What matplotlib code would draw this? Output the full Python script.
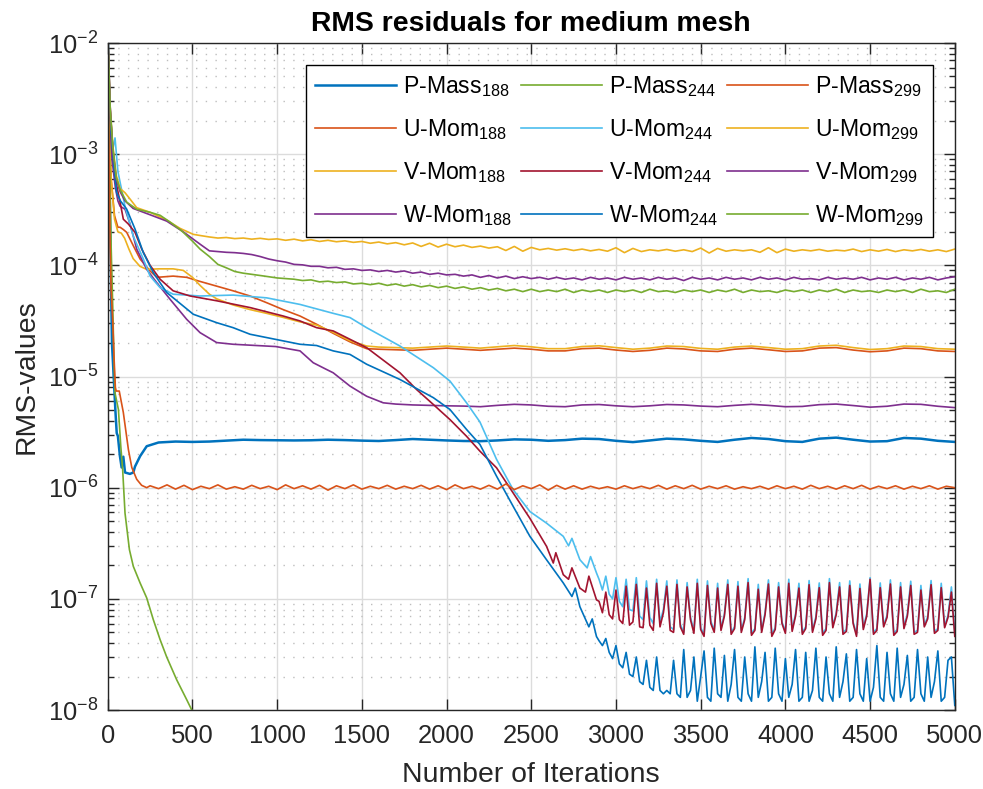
"""
RMS residuals for the medium mesh, log plot of 12 residual histories
"""

import numpy as np
import matplotlib
matplotlib.use('Agg')
import matplotlib.pyplot as plt
from matplotlib.ticker import FixedLocator, NullFormatter

plt.rcParams['font.family'] = ['Liberation Sans', 'DejaVu Sans']
plt.rcParams['mathtext.fontset'] = 'custom'
plt.rcParams['mathtext.rm'] = 'Liberation Sans'
plt.rcParams['mathtext.it'] = 'Liberation Sans:italic'
plt.rcParams['mathtext.bf'] = 'Liberation Sans:bold'
plt.rcParams['axes.unicode_minus'] = False

# ---- data ----
# head = hand picked (iteration, value) points, tail = values on a regular iteration grid

# P-Mass 188
pm188_it = [0, 8, 15, 20, 25, 35, 45, 53, 60, 72, 82, 92, 102, 131, 151, 161, 191, 230]
pm188_val = [1.2e-2, 1e-3, 2e-4, 6e-5, 2e-5, 1e-5, 5e-6, 3.1e-6, 2.9e-6, 1.92e-6, 1.52e-6, 1.9e-6,
             1.37e-6, 1.33e-6, 1.37e-6, 1.55e-6, 1.92e-6, 2.36e-6]
pm188_tail = [2.55, 2.6, 2.58, 2.6, 2.65, 2.7, 2.68, 2.67, 2.66, 2.67, 2.7, 2.68, 2.65, 2.63, 2.68, 2.74,
              2.7, 2.66, 2.63, 2.62, 2.66, 2.72, 2.7, 2.64, 2.68, 2.76, 2.74, 2.64, 2.57, 2.66, 2.76, 2.72,
              2.64, 2.58, 2.7, 2.8, 2.74, 2.62, 2.58, 2.76, 2.82, 2.7, 2.6, 2.62, 2.8, 2.76, 2.64, 2.58]  # x1e-6, 300:100:5000

# U-Mom 188
um188_it = [0, 8, 20, 40, 60, 73, 92, 112, 151, 191, 250, 290, 386, 466, 540, 643, 740, 840, 940, 1035,
            1135, 1233, 1330, 1430, 1528]
um188_val = [1.2e-2, 2e-3, 6e-4, 2.8e-4, 2.2e-4, 2.2e-4, 2.1e-4, 1.98e-4, 1.5e-4, 1.14e-4, 8.9e-5, 7.8e-5,
             8.0e-5, 7.8e-5, 7.2e-5, 6.5e-5, 5.9e-5, 5.3e-5, 4.6e-5, 4.0e-5, 3.5e-5, 2.95e-5, 2.45e-5,
             2.05e-5, 1.78e-5]
um188_tail = [1.76, 1.74, 1.72, 1.76, 1.8, 1.76, 1.72, 1.76, 1.8, 1.76, 1.7, 1.7, 1.78, 1.8, 1.73, 1.68,
              1.72, 1.8, 1.77, 1.7, 1.68, 1.76, 1.8, 1.74, 1.68, 1.7, 1.8, 1.82, 1.73, 1.67, 1.7, 1.8,
              1.78, 1.7, 1.68]  # x1e-5, 1600:100:5000

# V-Mom 188
vm188_it = [0, 8, 20, 40, 60, 80, 100, 125, 150, 190, 230, 300, 386, 446, 500, 545, 600, 643, 740, 840,
            938, 1036, 1135, 1233, 1331, 1430, 1528]
vm188_val = [1.2e-2, 2e-3, 6e-4, 2.6e-4, 2.0e-4, 1.95e-4, 1.75e-4, 1.4e-4, 1.15e-4, 9.8e-5, 9.2e-5, 9.3e-5,
             9.3e-5, 9.0e-5, 7.8e-5, 6.6e-5, 5.5e-5, 5.0e-5, 4.4e-5, 4.0e-5, 3.7e-5, 3.4e-5, 3.1e-5,
             2.9e-5, 2.5e-5, 2.1e-5, 1.88e-5]
vm188_tail = [1.84, 1.82, 1.8, 1.84, 1.88, 1.84, 1.8, 1.85, 1.9, 1.85, 1.78, 1.78, 1.86, 1.89, 1.82, 1.76,
              1.8, 1.88, 1.86, 1.79, 1.76, 1.84, 1.88, 1.82, 1.76, 1.78, 1.88, 1.91, 1.82, 1.75, 1.78, 1.88,
              1.86, 1.78, 1.76]  # x1e-5, 1600:100:5000

# W-Mom 188
wm188_it = [0, 10, 25, 45, 60, 73, 102, 132, 171, 230, 289, 368, 466, 545, 643, 740, 992, 1135, 1213,
            1290, 1331, 1430, 1528, 1626]
wm188_val = [1.2e-2, 2.5e-3, 9e-4, 5e-4, 3.8e-4, 3.4e-4, 3.2e-4, 2.35e-4, 1.4e-4, 9.2e-5, 7.0e-5, 4.95e-5,
             3.27e-5, 2.48e-5, 2.02e-5, 1.95e-5, 1.86e-5, 1.7e-5, 1.33e-5, 1.16e-5, 1.08e-5, 8.2e-6,
             6.65e-6, 5.8e-6]
wm188_tail = [5.65, 5.55, 5.5, 5.45, 5.42, 5.35, 5.5, 5.62, 5.55, 5.4, 5.35, 5.55, 5.6, 5.45, 5.35, 5.45,
              5.6, 5.55, 5.42, 5.35, 5.5, 5.62, 5.5, 5.35, 5.38, 5.58, 5.65, 5.48, 5.3, 5.4, 5.65, 5.62,
              5.4, 5.25]  # x1e-6, 1700:100:5000

# P-Mass 244 (drops out of the axes at ~500)
pm244_it = [0, 10, 20, 30, 38, 43, 63, 77, 88, 102, 128, 151, 191, 230, 269, 309, 348, 407, 466, 496, 520]
pm244_val = [1.2e-2, 1e-3, 1.5e-4, 4e-5, 1.2e-5, 7.1e-6, 5.05e-6, 2.36e-6, 1.46e-6, 5.9e-7, 2.77e-7,
             1.96e-7, 1.39e-7, 1.02e-7, 6.5e-8, 4.3e-8, 3.0e-8, 1.87e-8, 1.24e-8, 1.0e-8, 8.5e-9]

# U-Mom 244
um244_it = [0, 15, 30, 43, 60, 100, 150, 210, 250, 309, 386, 545, 740, 938, 1135, 1331, 1430, 1528, 1725,
            1922, 2020, 2118, 2197, 2295, 2393, 2492, 2590, 2689, 2720, 2740, 2787, 2830, 2850, 2885]
um244_val = [1.2e-2, 2.5e-3, 1.1e-3, 1.4e-3, 7e-4, 3.5e-4, 1.84e-4, 1.14e-4, 8.0e-5, 6.3e-5, 5.5e-5,
             5.3e-5, 5.4e-5, 5.1e-5, 4.45e-5, 3.7e-5, 3.39e-5, 2.75e-5, 1.88e-5, 1.2e-5, 9.1e-6, 5.8e-6,
             3.9e-6, 1.8e-6, 9.6e-7, 6.1e-7, 4.8e-7, 3.65e-7, 3.0e-7, 3.5e-7, 2.25e-7, 1.9e-7, 2.4e-7, 1.71e-7]
um244_tail = [15.0, 12.0, 16.0, 11.0, 10.0, 15.5, 9.5, 8.5, 15.0, 8.0,
              7.8, 15.5, 7.0, 6.5, 14.5, 6.8, 6.0, 15.0, 6.2, 8.0,
              14.5, 5.6, 5.3, 14.8, 5.9, 5.0, 14.0, 6.8, 5.2, 15.0,
              5.5, 4.8, 14.5, 6.3, 5.2, 13.8, 5.4, 7.3, 14.8, 5.0,
              5.6, 14.3, 5.2, 6.8, 15.2, 4.9, 5.4, 13.5, 5.2, 7.5,
              14.8, 4.8, 5.5, 14.0, 6.2, 5.1, 15.0, 5.3, 7.3, 13.8,
              5.0, 5.6, 14.6, 5.2, 6.9, 13.9, 4.9, 5.4, 15.2, 5.7,
              7.5, 14.0, 5.0, 5.3, 14.5, 6.2, 4.8, 13.6, 5.5, 7.3,
              15.5, 5.0, 5.4, 13.9, 5.8, 7.1, 14.8, 4.9, 5.3, 14.0,
              5.6, 7.3, 14.4, 5.0, 5.2, 13.2, 5.8, 6.9, 14.6, 5.1,
              5.4, 13.8, 5.7, 7.1, 12.8, 5.0]  # x1e-8, 2900:20:5000

# V-Mom 244
vm244_it = [0, 15, 30, 53, 73, 92, 122, 161, 201, 250, 309, 386, 486, 643, 840, 1036, 1135, 1233, 1331,
            1430, 1528, 1725, 1823, 1922, 2020, 2118, 2197, 2295, 2393, 2492, 2590, 2630, 2645, 2689,
            2720, 2740, 2787, 2820, 2840, 2885]
vm244_val = [1.2e-2, 2.5e-3, 1e-3, 5.2e-4, 3.7e-4, 2.6e-4, 2.35e-4, 1.98e-4, 1.4e-4, 1.0e-4, 7.5e-5,
             5.9e-5, 5.3e-5, 4.8e-5, 4.17e-5, 3.5e-5, 3.16e-5, 2.75e-5, 2.57e-5, 2.16e-5, 1.82e-5,
             1.08e-5, 7.64e-6, 5.6e-6, 4.1e-6, 2.9e-6, 2.13e-6, 1.51e-6, 8.96e-7, 5.3e-7, 2.97e-7,
             2.1e-7, 2.6e-7, 1.65e-7, 1.5e-7, 1.9e-7, 1.25e-7, 1.15e-7, 1.6e-7, 9.8e-8]
vm244_tail = [9.5, 7.5, 11.5, 7.2, 6.6, 12.0, 6.5, 6.0, 13.0, 5.8,
              6.2, 13.5, 5.6, 5.5, 12.5, 5.8, 5.2, 13.8, 5.6, 7.5,
              13.0, 5.2, 5.0, 13.5, 5.6, 4.8, 12.8, 6.5, 4.9, 13.8,
              5.3, 4.6, 13.2, 6.0, 5.0, 12.5, 5.2, 7.0, 13.5, 4.8,
              5.4, 13.0, 5.0, 6.5, 14.0, 4.7, 5.2, 12.2, 5.0, 7.2,
              13.6, 4.6, 5.3, 12.8, 6.0, 4.9, 13.8, 5.1, 7.0, 12.5,
              4.8, 5.4, 13.4, 5.0, 6.6, 12.6, 4.7, 5.2, 14.0, 5.5,
              7.2, 12.8, 4.8, 5.1, 13.2, 6.0, 4.6, 12.4, 5.3, 7.0,
              15.0, 4.8, 5.2, 12.6, 5.6, 6.8, 13.6, 4.7, 5.1, 12.8,
              5.4, 7.0, 13.2, 4.8, 5.0, 12.0, 5.6, 6.6, 13.4, 4.9,
              5.2, 12.6, 5.5, 6.8, 11.5, 4.6]  # x1e-8, 2900:20:5000

# W-Mom 244
wm244_it = [0, 15, 35, 53, 75, 112, 132, 161, 210, 269, 348, 446, 505, 643, 740, 840, 938, 1036, 1135,
            1233, 1331, 1430, 1528, 1725, 1922, 2020, 2118, 2197, 2295, 2393, 2492, 2590, 2689, 2740,
            2760, 2787, 2840, 2860, 2885]
wm244_val = [1.2e-2, 2e-3, 8e-4, 4.5e-4, 3.8e-4, 3.2e-4, 2.7e-4, 2.12e-4, 1.3e-4, 8.6e-5, 5.7e-5, 4.3e-5,
             3.63e-5, 3.05e-5, 2.75e-5, 2.4e-5, 2.24e-5, 2.09e-5, 1.95e-5, 1.9e-5, 1.7e-5, 1.58e-5,
             1.29e-5, 9.4e-6, 6.45e-6, 5.05e-6, 3.34e-6, 2.45e-6, 1.27e-6, 6.8e-7, 3.65e-7, 2.25e-7,
             1.39e-7, 1.05e-7, 1.25e-7, 8.5e-8, 5.6e-8, 6.6e-8, 4.58e-8]
wm244_tail = [42, 38, 44, 33, 29, 38, 26, 24, 33, 21,
              20, 30, 18, 17, 28, 16, 15, 30, 15, 14,
              15, 14, 28, 14, 13, 35, 13, 15, 30, 12,
              20, 34, 13, 12, 36, 14, 13, 31, 12, 17,
              35, 13, 12, 30, 14, 12, 37, 13, 18, 33,
              12, 13, 36, 14, 12, 29, 13, 17, 35, 12,
              13, 33, 12, 15, 36, 13, 12, 30, 14, 12,
              37, 13, 18, 32, 12, 13, 35, 14, 12, 29,
              12, 16, 38, 13, 12, 33, 14, 12, 36, 13,
              17, 31, 12, 13, 35, 14, 12, 30, 13, 18,
              34, 12, 13, 28, 30, 11]  # x1e-9, 2900:20:5000

# P-Mass 299
pm299_it = [0, 8, 14, 20, 30, 37, 45, 50, 68, 92, 122, 142, 171, 200, 230]
pm299_val = [1.2e-2, 1e-3, 1.5e-4, 6e-5, 3e-5, 1.5e-5, 8e-6, 7.4e-6, 7.4e-6, 4.75e-6, 2.2e-6, 1.52e-6,
             1.19e-6, 1.05e-6, 1.0e-6]
pm299_tail = [1.04, 0.98, 1.06, 0.97, 1.05, 0.96, 1.03, 0.98, 1.06, 0.97,
              1.02, 0.97, 1.05, 0.98, 1.03, 0.96, 1.06, 0.98, 1.04, 0.97,
              1.05, 0.95, 1.04, 0.98, 1.06, 0.97, 1.03, 0.98, 1.05, 0.97,
              1.03, 0.98, 1.05, 0.97, 1.04, 0.96, 1.06, 0.98, 1.03, 0.97,
              1.05, 0.97, 1.08, 0.96, 1.04, 0.98, 1.06, 0.95, 1.05, 0.97,
              1.04, 0.97, 1.03, 0.98, 1.02, 0.97, 1.04, 0.98, 1.03, 0.98,
              1.05, 0.97, 1.04, 0.98, 1.05, 0.97, 1.03, 0.98, 1.04, 0.97,
              1.02, 0.98, 1.03, 0.97, 1.04, 0.98, 1.03, 0.97, 1.05, 0.98,
              1.03, 0.97, 1.04, 0.98, 1.05, 0.97, 1.03, 0.98, 1.04, 0.97,
              1.03, 0.98, 1.04, 0.97, 1.03, 1.0]  # x1e-6, 250:50:5000

# U-Mom 299
um299_it = [0, 15, 30, 50, 73, 102, 132, 171, 250, 348, 427, 505, 550]
um299_val = [1.2e-2, 2.5e-3, 1.2e-3, 6.5e-4, 4.9e-4, 4.5e-4, 3.94e-4, 3.3e-4, 3.0e-4, 2.55e-4, 2.15e-4,
             1.9e-4, 1.85e-4]
um299_tail = [1.80, 1.76, 1.78, 1.74, 1.76, 1.72, 1.75, 1.71, 1.73,
              1.68, 1.72, 1.66, 1.70, 1.64, 1.68, 1.63, 1.66, 1.61, 1.64,
              1.58, 1.62, 1.56, 1.60, 1.53, 1.59, 1.48, 1.58, 1.46, 1.55,
              1.47, 1.52, 1.45, 1.49, 1.43, 1.47, 1.36, 1.48, 1.34, 1.45,
              1.38, 1.42, 1.37, 1.41, 1.36, 1.40, 1.35, 1.39, 1.34, 1.44,
              1.30, 1.42, 1.33, 1.38, 1.35, 1.39, 1.34, 1.38, 1.33, 1.43,
              1.29, 1.42, 1.34, 1.38, 1.35, 1.38, 1.31, 1.44, 1.30, 1.40,
              1.34, 1.38, 1.35, 1.39, 1.34, 1.37, 1.35, 1.40, 1.33, 1.38,
              1.34, 1.39, 1.33, 1.38, 1.35, 1.39, 1.34, 1.38, 1.33, 1.40]  # x1e-4, 600:50:5000

# V-Mom 299
vm299_it = [0, 15, 30, 50, 73, 102, 150, 250, 348, 446, 545]
vm299_val = [1.2e-2, 2.5e-3, 1.1e-3, 6e-4, 4.6e-4, 3.8e-4, 3.25e-4, 2.85e-4, 2.5e-4, 2.0e-4, 1.55e-4]
vm299_tail = [13.5, 13.3, 13.1, 13.0, 12.8, 12.5, 12.0, 11.4, 11.0,
              10.7, 10.2, 10.1, 9.8, 9.8, 9.5, 9.6, 9.2, 9.3, 9.0,
              9.1, 8.8, 9.0, 8.7, 8.9, 8.5, 8.7, 8.3, 8.5, 8.2,
              8.3, 8.0, 8.2, 7.8, 8.1, 7.7, 8.0, 7.6, 7.9, 7.6,
              7.8, 7.5, 7.8, 7.5, 7.7, 7.4, 7.8, 7.5, 7.7, 7.4,
              7.8, 7.5, 7.7, 7.4, 7.8, 7.5, 7.7, 7.3, 7.8, 7.5,
              7.7, 7.4, 7.8, 7.5, 7.7, 7.4, 7.8, 7.5, 7.7, 7.4,
              7.8, 7.5, 7.6, 7.4, 7.8, 7.5, 7.7, 7.5, 7.8, 7.4,
              7.7, 7.5, 7.8, 7.4, 7.7, 7.5, 7.8, 7.4, 7.7, 7.9]  # x1e-5, 600:50:5000

# W-Mom 299
wm299_it = [0, 15, 30, 50, 73, 112, 171, 250, 309, 368, 427, 446, 500, 545]
wm299_val = [1.2e-2, 2.5e-3, 1.15e-3, 6.2e-4, 4.8e-4, 3.7e-4, 3.2e-4, 3.0e-4, 2.82e-4, 2.45e-4, 2.1e-4,
             1.98e-4, 1.65e-4, 1.4e-4]
wm299_tail = [12.0, 10.2, 9.5, 8.8, 8.5, 8.3, 8.1, 7.9, 7.7,
              7.6, 7.5, 7.3, 7.4, 7.1, 7.2, 7.0, 7.1, 6.8, 6.9,
              6.7, 6.9, 6.6, 6.8, 6.5, 6.7, 6.4, 6.6, 6.3, 6.5,
              6.2, 6.4, 6.1, 6.3, 6.0, 6.2, 5.9, 6.1, 5.8, 6.1,
              5.8, 6.0, 5.8, 6.1, 5.7, 6.0, 5.8, 6.0, 5.7, 6.0,
              5.8, 6.0, 5.7, 6.1, 5.8, 5.9, 5.7, 6.0, 5.8, 6.0,
              5.7, 6.0, 5.8, 6.1, 5.7, 6.0, 5.8, 5.9, 5.7, 6.0,
              5.8, 6.0, 5.7, 6.0, 5.8, 6.1, 5.7, 6.0, 5.8, 5.9,
              5.7, 6.0, 5.8, 6.0, 5.7, 6.1, 5.8, 5.9, 5.7, 6.1]  # x1e-5, 600:50:5000

labels = ['P-Mass$_{188}$', 'U-Mom$_{188}$', 'V-Mom$_{188}$', 'W-Mom$_{188}$',
          'P-Mass$_{244}$', 'U-Mom$_{244}$', 'V-Mom$_{244}$', 'W-Mom$_{244}$',
          'P-Mass$_{299}$', 'U-Mom$_{299}$', 'V-Mom$_{299}$', 'W-Mom$_{299}$']

# MATLAB default colour order
colors = ['#0072BD', '#D95319', '#EDB120', '#7E2F8E', '#77AC30', '#4DBEEE', '#A2142F']

# decades shown on the y axis
decades = [1e-8, 1e-7, 1e-6, 1e-5, 1e-4, 1e-3, 1e-2]


def series(head_it, head_val, tail=None, start=None, step=None, scale=1.0):
    """join the hand picked head with the regularly sampled tail"""
    x = list(head_it)
    y = list(head_val)
    if tail is not None:
        x += list(start + step * np.arange(len(tail)))
        y += list(np.array(tail) * scale)
    return np.array(x), np.array(y)


curves = [
    series(pm188_it, pm188_val, pm188_tail, 300, 100, 1e-6),
    series(um188_it, um188_val, um188_tail, 1600, 100, 1e-5),
    series(vm188_it, vm188_val, vm188_tail, 1600, 100, 1e-5),
    series(wm188_it, wm188_val, wm188_tail, 1700, 100, 1e-6),
    series(pm244_it, pm244_val),
    series(um244_it, um244_val, um244_tail, 2900, 20, 1e-8),
    series(vm244_it, vm244_val, vm244_tail, 2900, 20, 1e-8),
    series(wm244_it, wm244_val, wm244_tail, 2900, 20, 1e-9),
    series(pm299_it, pm299_val, pm299_tail, 250, 50, 1e-6),
    series(um299_it, um299_val, um299_tail, 600, 50, 1e-4),
    series(vm299_it, vm299_val, vm299_tail, 600, 50, 1e-5),
    series(wm299_it, wm299_val, wm299_tail, 600, 50, 1e-5),
]

# ---- figure ----
fig = plt.figure(figsize=(9.83, 7.89), dpi=100)
ax = fig.add_axes([0.1096, 0.1001, 0.8617, 0.8454])

for i, (x, y) in enumerate(curves):
    lw = 1.8 if i == 0 else 1.2
    ax.semilogy(x, y, color=colors[i % len(colors)], lw=lw, label=labels[i])

ax.set_xlim(0, 5000)
ax.set_ylim(1e-8, 1e-2)
ax.set_xticks(np.arange(0, 5001, 500))
ax.yaxis.set_major_locator(FixedLocator(decades))
minor = [m * d for d in decades[:-1] for m in range(2, 10)]
ax.yaxis.set_minor_locator(FixedLocator(minor))
ax.yaxis.set_minor_formatter(NullFormatter())

# MATLAB-like look: grid, inward ticks on all sides
ax.grid(True, which='major', color='#dcdcdc', lw=1.0, ls='-')
ax.yaxis.grid(True, which='minor', color='#bdbdbd', lw=1.0, ls=(0, (1, 6)))
ax.set_axisbelow(True)
ax.tick_params(which='both', direction='in', top=True, right=True, colors='#262626',
               labelsize=18.4, width=1.0)
ax.tick_params(which='major', length=8, pad=7)
ax.tick_params(axis='x', which='major', pad=10)
ax.tick_params(which='minor', length=4)
for s in ax.spines.values():
    s.set_color('#262626')
    s.set_linewidth(1.0)

ax.set_title('RMS residuals for medium mesh', fontsize=20.4, fontweight='bold', pad=9)
ax.set_xlabel('Number of Iterations', fontsize=20.4, color='#262626', labelpad=10)
ax.set_ylabel('RMS-values', fontsize=20.4, color='#262626', labelpad=6)

leg = ax.legend(ncol=3, loc='upper left', bbox_to_anchor=(306 / 983, 1 - 65 / 789),
                bbox_transform=fig.transFigure, borderaxespad=0, fontsize=16.6,
                handlelength=3.5, handletextpad=0.3, columnspacing=0.4, labelspacing=0.78,
                borderpad=0.4, fancybox=False, framealpha=1, edgecolor='black')
leg.get_frame().set_linewidth(1.0)

fig.savefig('out.png', dpi=100)
